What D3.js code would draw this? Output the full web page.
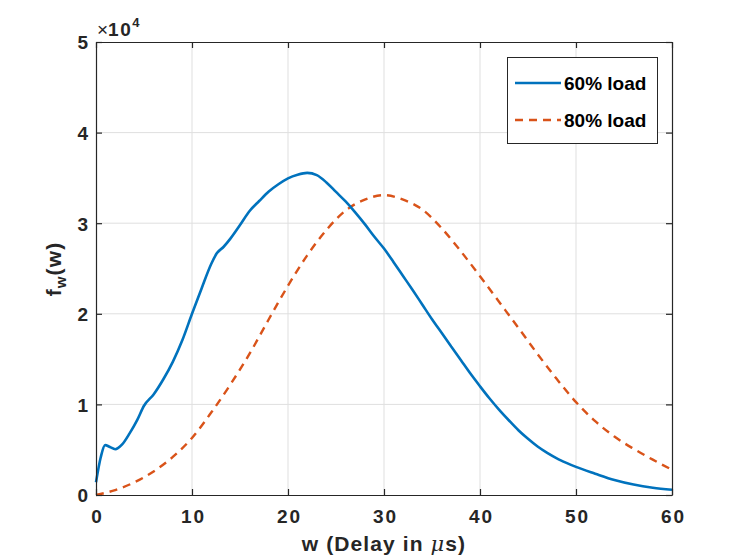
<!DOCTYPE html>
<html>
<head>
<meta charset="utf-8">
<script src="https://cdn.jsdelivr.net/npm/d3@7"></script>
<style>
  html, body { margin: 0; padding: 0; background: #fff; }
  svg { display: block; font-family: "Liberation Sans", Arial, Helvetica, sans-serif; }
</style>
</head>
<body>
<svg id="chart" width="742" height="560"></svg>
<script>
// ---- Data ----
const xTicks = [0, 10, 20, 30, 40, 50, 60];
const yTicks = [0, 10000, 20000, 30000, 40000, 50000];
const yTickLabels = ["0", "1", "2", "3", "4", "5"];
const seriesNames = ["60% load", "80% load"];

const load60W = [0, 0.5, 0.95, 1.45, 2, 2.7, 3.5, 4.3, 5, 6, 7, 8, 9, 10, 11, 12, 12.6, 13.3, 14, 15, 16, 17, 18, 19, 20, 21, 22, 23, 24, 25, 26, 27, 28, 29, 30, 31, 32, 33, 34, 35, 36, 37, 38, 39, 40, 41, 42, 43, 44, 45, 46, 47, 48, 49, 50, 52, 54, 56, 58, 60];
const load60V = [1400, 4200, 5500, 5300, 5050, 5550, 6800, 8300, 9850, 11100, 12750, 14700, 17100, 20000, 22800, 25500, 26700, 27400, 28300, 29800, 31350, 32450, 33500, 34300, 34950, 35350, 35550, 35300, 34500, 33450, 32400, 31200, 29900, 28500, 27200, 25700, 24150, 22600, 21000, 19400, 17900, 16400, 14900, 13400, 12000, 10650, 9400, 8250, 7150, 6200, 5350, 4650, 4050, 3550, 3100, 2350, 1650, 1150, 800, 580];

const load80W = [0, 2, 4, 6, 8, 10, 12, 14, 16, 18, 20, 22, 24, 26, 28, 30, 32, 34, 36, 38, 40, 42, 44, 46, 48, 50, 52, 54, 56, 58, 60];
const load80V = [0, 550, 1400, 2600, 4200, 6300, 9100, 12200, 15600, 19400, 23100, 26450, 29250, 31400, 32600, 33100, 32600, 31500, 29450, 26900, 24150, 21300, 18450, 15550, 12800, 10250, 8150, 6450, 5100, 3900, 2790];

// ---- Layout ----
const svg = d3.select("#chart");
const pL = 96, pR = 672, pT = 42, pB = 495;
const x = d3.scaleLinear().domain([0, 60]).range([pL, pR]);
const y = d3.scaleLinear().domain([0, 50000]).range([pB, pT]);

const axisColor = "#262626";
const gridColor = "#dfdfdf";
const blue = "#0072BD", orange = "#D95319";
const FONT = "'Liberation Sans', Arial, Helvetica, sans-serif";

// grid
const g = svg.append("g");
g.selectAll(".gx").data(xTicks.slice(1, -1)).enter().append("line")
  .attr("x1", d => x(d)).attr("x2", d => x(d)).attr("y1", pT).attr("y2", pB)
  .attr("stroke", gridColor).attr("stroke-width", 1);
g.selectAll(".gy").data(yTicks.slice(1, -1)).enter().append("line")
  .attr("y1", d => y(d)).attr("y2", d => y(d)).attr("x1", pL).attr("x2", pR)
  .attr("stroke", gridColor).attr("stroke-width", 1);

// lines
const line = d3.line().x(d => x(d[0])).y(d => y(d[1])).curve(d3.curveMonotoneX);
const d60 = load60W.map((w, i) => [w, load60V[i]]);
const d80 = load80W.map((w, i) => [w, load80V[i]]);

svg.append("path").datum(d80).attr("d", line).attr("fill", "none")
  .attr("stroke", orange).attr("stroke-width", 2.4).attr("stroke-dasharray", "8,6");
svg.append("path").datum(d60).attr("d", line).attr("fill", "none")
  .attr("stroke", blue).attr("stroke-width", 2.6);

// axes
const xAxisB = d3.axisBottom(x).tickValues(xTicks).tickSizeInner(-6).tickSizeOuter(0).tickPadding(15);
const xAxisT = d3.axisTop(x).tickValues(xTicks).tickSizeInner(-6).tickSizeOuter(0).tickFormat("");
const yAxisL = d3.axisLeft(y).tickValues(yTicks).tickSizeInner(-6).tickSizeOuter(0).tickPadding(8)
  .tickFormat((d, i) => yTickLabels[i]);
const yAxisR = d3.axisRight(y).tickValues(yTicks).tickSizeInner(-6).tickSizeOuter(0).tickFormat("");

function style(sel) {
  sel.selectAll("path").attr("stroke", axisColor).attr("stroke-width", 1.2);
  sel.selectAll("line").attr("stroke", axisColor).attr("stroke-width", 1.2);
  sel.selectAll("text").attr("fill", axisColor).attr("font-size", 19).attr("font-weight", "bold")
    .attr("font-family", FONT);
}
svg.append("g").attr("transform", `translate(0,${pB})`).call(xAxisB).call(style)
  .selectAll("text").attr("dy", "0.71em").attr("letter-spacing", 2).attr("dx", 1);
svg.append("g").attr("transform", `translate(0,${pT})`).call(xAxisT).call(style);
svg.append("g").attr("transform", `translate(${pL},0)`).call(yAxisL).call(style)
  .selectAll("text").attr("dy", "0.36em");
svg.append("g").attr("transform", `translate(${pR},0)`).call(yAxisR).call(style);

// exponent label
const ex = svg.append("text").attr("x", 97).attr("y", 36).attr("fill", axisColor)
  .attr("font-size", 19).attr("font-family", FONT);
ex.append("tspan").text("×").attr("font-weight", "normal");
ex.append("tspan").text("10").attr("font-weight", "bold").attr("letter-spacing", 1.5);
ex.append("tspan").text("4").attr("font-weight", "bold").attr("font-size", 13).attr("dy", -9);

// x label
const xl = svg.append("text").attr("x", 384).attr("y", 551).attr("text-anchor", "middle")
  .attr("fill", axisColor).attr("font-size", 21).attr("font-weight", "bold")
  .attr("letter-spacing", 1.1).attr("font-family", FONT);
xl.append("tspan").text("w (Delay in ");
xl.append("tspan").text("μ").attr("font-style", "italic").attr("font-weight", "normal")
  .attr("font-family", "'DejaVu Serif', serif");
xl.append("tspan").text("s)");

// y label
const yl = svg.append("text").attr("transform", "translate(61,269) rotate(-90)")
  .attr("text-anchor", "middle").attr("fill", axisColor).attr("font-size", 21).attr("font-weight", "bold")
  .attr("letter-spacing", 1.1).attr("font-family", FONT);
yl.append("tspan").text("f");
yl.append("tspan").text("w").attr("font-size", 15).attr("dy", 5);
yl.append("tspan").text("(w)").attr("dy", -5);

// legend
const lg = svg.append("g");
lg.append("rect").attr("x", 507.5).attr("y", 57.5).attr("width", 150).attr("height", 86)
  .attr("fill", "#fff").attr("stroke", axisColor).attr("stroke-width", 1);
const legY = [83, 120];
const legColors = [blue, orange];
const legDash = [null, "8,6"];
seriesNames.forEach((name, i) => {
  lg.append("line").attr("x1", 515).attr("x2", 561).attr("y1", legY[i]).attr("y2", legY[i])
    .attr("stroke", legColors[i]).attr("stroke-width", i === 0 ? 2.6 : 2.4)
    .attr("stroke-dasharray", legDash[i]);
  lg.append("text").attr("x", 564).attr("y", legY[i] + 0.5).attr("dy", "0.36em")
    .attr("fill", "#000").attr("font-size", 19).attr("font-weight", "bold")
    .attr("font-family", FONT).text(name);
});
</script>
</body>
</html>
